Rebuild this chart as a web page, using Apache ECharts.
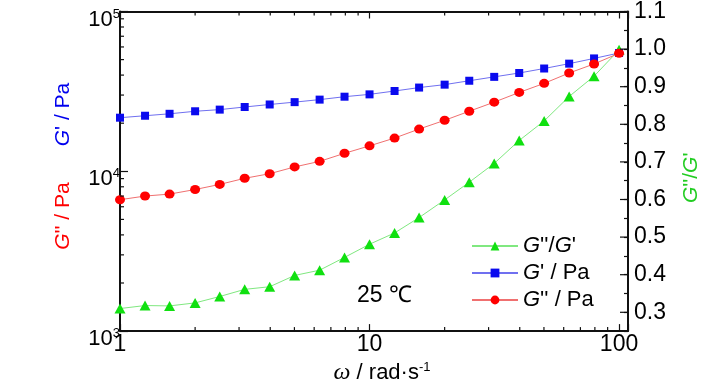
<!DOCTYPE html>
<html>
<head>
<meta charset="utf-8">
<script src="https://cdn.jsdelivr.net/npm/echarts@6/dist/echarts.min.js"></script>
<style>html,body{margin:0;padding:0;background:#fff}#c{width:728px;height:390px}</style>
</head>
<body>
<div id="c"></div>
<script>
// ---- data ----
const omega = [1, 1.26, 1.58, 2, 2.51, 3.16, 3.98, 5.01, 6.31, 7.94, 10, 12.6, 15.8, 20, 25.1, 31.6, 39.8, 50.1, 63.1, 79.4, 100];
const Gp = [21650, 22270, 22900, 23750, 24320, 25260, 26190, 27090, 28090, 29300, 30300, 31800, 33420, 34850, 36870, 38990, 41230, 43980, 47170, 50860, 55000];
const Gpp = [6640, 7000, 7200, 7690, 8280, 9040, 9660, 10650, 11540, 12960, 14430, 16140, 18380, 20850, 23760, 27090, 31160, 35500, 41230, 46960, 54770];
const ratio = [0.310, 0.318, 0.317, 0.325, 0.342, 0.361, 0.368, 0.398, 0.412, 0.446, 0.481, 0.511, 0.552, 0.599, 0.646, 0.696, 0.757, 0.809, 0.874, 0.928, 0.998];
const xMinorTicks = [2, 3, 4, 5, 6, 7, 8, 9, 20, 30, 40, 50, 60, 70, 80, 90];
const yMinorTicks = [2000, 3000, 4000, 5000, 6000, 7000, 8000, 9000, 20000, 30000, 40000, 50000, 60000, 70000, 80000, 90000];
const rightMajorTicks = [0.3, 0.4, 0.5, 0.6, 0.7, 0.8, 0.9, 1.0, 1.1];
const seriesNames = ["G''/G'", "G' / Pa", "G'' / Pa"];

const X_MIN = 1, X_MAX = 108.6, Y_MIN = 1000, Y_MAX = 100000, R_MIN = 0.25, R_MAX = 1.1;
const FONT = "'Liberation Sans Narrow', 'Liberation Sans', Arial, sans-serif";
const AX = '#111';

const chart = echarts.init(document.getElementById('c'), null, {renderer: 'canvas'});

function isPow10(v){ const l = Math.log10(v); return Math.abs(l - Math.round(l)) < 1e-6; }

function tickSeries(data, yAxisIndex, draw){
  return {
    type: 'custom', xAxisIndex: 0, yAxisIndex: yAxisIndex, silent: true, clip: false, z: 10,
    data: data,
    renderItem: function(params, api){
      return {type: 'group', children: draw(api)};
    }
  };
}
function ln(x1,y1,x2,y2){ return {type:'line', shape:{x1:x1,y1:y1,x2:x2,y2:y2}, style:{stroke:AX, lineWidth:1.2}}; }

const option = {
  animation: false,
  backgroundColor: '#fff',
  textStyle: {fontFamily: FONT},
  grid: {left: 120, right: 100, top: 9, bottom: 52, containLabel: false},
  legend: {
    data: seriesNames,
    orient: 'vertical', left: 466, top: 230,
    itemWidth: 46, itemHeight: 11, itemGap: 5,
    textStyle: {fontFamily: FONT, fontSize: 22, color: '#000', lineHeight: 21,
      rich: {i: {fontStyle: 'italic', fontFamily: FONT, fontSize: 22, lineHeight: 21}}},
    formatter: function(name){ return name.replace(/G/g, '{i|G}'); }
  },
  xAxis: [{
    type: 'log', min: X_MIN, max: X_MAX, position: 'bottom',
    axisLine: {show: true, lineStyle: {color: AX, width: 2}},
    axisTick: {show: true, inside: true, length: 7, lineStyle: {color: AX, width: 1.2}},
    splitLine: {show: false}, minorTick: {show: false},
    axisLabel: {fontFamily: FONT, fontSize: 23, color: '#000', margin: 2, showMaxLabel: true,
      formatter: function(v){ return isPow10(v) && v <= 100 ? String(Math.round(v)) : ''; }},
    name: '{w|ω} / rad·s{s|-1}', nameLocation: 'middle', nameGap: 27,
    nameTextStyle: {fontFamily: FONT, fontSize: 22, color: '#000', padding: [0, 0, 0, 16],
      rich: {w: {fontFamily: "'Liberation Serif', 'DejaVu Serif', serif", fontStyle: 'italic', fontSize: 24},
             s: {fontFamily: FONT, fontSize: 13, verticalAlign: 'top', padding: [0, 0, 10, 0]}}}
  }, {
    type: 'log', min: X_MIN, max: X_MAX, position: 'top',
    axisLine: {show: true, lineStyle: {color: AX, width: 2}},
    axisTick: {show: true, inside: true, length: 7, lineStyle: {color: AX, width: 1.2}},
    axisLabel: {show: false}, splitLine: {show: false}
  }],
  yAxis: [{
    type: 'log', min: Y_MIN, max: Y_MAX, position: 'left',
    axisLine: {show: true, lineStyle: {color: AX, width: 2}},
    axisTick: {show: true, inside: true, length: 8, lineStyle: {color: AX, width: 1.2}},
    splitLine: {show: false},
    axisLabel: {margin: 0, padding: [16, 0, 0, 0],
      formatter: function(v){ return '{b|10}{s|' + Math.round(Math.log10(v)) + '}'; },
      rich: {b: {fontFamily: "'Liberation Sans', Arial, sans-serif", fontSize: 22, color: '#000', lineHeight: 24},
             s: {fontFamily: "'Liberation Sans', Arial, sans-serif", fontSize: 13, color: '#000', verticalAlign: 'top', lineHeight: 24, padding: [0, 0, 12, 0]}}},
    name: "{ri|G}{r|'' / Pa}{sp|}{bi|G}{b|' / Pa}", nameLocation: 'middle', nameRotate: 90, nameGap: 46,
    nameTextStyle: {padding: [0, 0, 0, 10],
      rich: {
        ri: {fontFamily: "'Liberation Sans', Arial, sans-serif", fontStyle: 'italic', fontSize: 21, color: '#ff0000'},
        r: {fontFamily: "'Liberation Sans', Arial, sans-serif", fontSize: 21, color: '#ff0000'},
        sp: {width: 36},
        bi: {fontFamily: "'Liberation Sans', Arial, sans-serif", fontStyle: 'italic', fontSize: 21, color: '#0000ee'},
        b: {fontFamily: "'Liberation Sans', Arial, sans-serif", fontSize: 21, color: '#0000ee'}
      }}
  }, {
    type: 'value', min: R_MIN, max: R_MAX, interval: 0.05, position: 'right',
    axisLine: {show: true, lineStyle: {color: AX, width: 2}},
    axisTick: {show: true, inside: true, length: 4, lineStyle: {color: AX, width: 1.2}},
    splitLine: {show: false},
    axisLabel: {fontFamily: FONT, fontSize: 23, color: '#000', margin: 6,
      formatter: function(v){ return Math.abs(v * 10 - Math.round(v * 10)) < 1e-6 ? v.toFixed(1) : ''; }},
    name: "{i|G}''/{i|G}'", nameLocation: 'middle', nameRotate: 90, nameGap: 53,
    nameTextStyle: {fontFamily: "'Liberation Sans', Arial, sans-serif", fontSize: 21, color: '#22cc22', padding: [0, 13, 0, 0],
      rich: {i: {fontFamily: "'Liberation Sans', Arial, sans-serif", fontStyle: 'italic', fontSize: 21, color: '#22cc22'}}}
  }],
  graphic: [{
    type: 'text', left: 357, top: 284, silent: true,
    style: {text: '25 ℃', fontFamily: FONT, fontSize: 23, fill: '#000'}
  }],
  series: [
    {
      name: seriesNames[0], type: 'line', xAxisIndex: 0, yAxisIndex: 1,
      data: omega.map((w, i) => [w, ratio[i]]),
      symbol: 'triangle', symbolSize: [11, 10],
      itemStyle: {color: '#10e010'}, lineStyle: {color: '#80e880', width: 1}, z: 3
    },
    {
      name: seriesNames[1], type: 'line', xAxisIndex: 0, yAxisIndex: 0,
      data: omega.map((w, i) => [w, Gp[i]]),
      symbol: 'rect', symbolSize: 8,
      itemStyle: {color: '#0a0aee'}, lineStyle: {color: '#7070f0', width: 1}, z: 4
    },
    {
      name: seriesNames[2], type: 'line', xAxisIndex: 0, yAxisIndex: 0,
      data: omega.map((w, i) => [w, Gpp[i]]),
      symbol: 'circle', symbolSize: [10, 9],
      itemStyle: {color: '#ff0000'}, lineStyle: {color: '#f07070', width: 1}, z: 5
    },
    tickSeries(xMinorTicks.map(v => [v, Y_MIN]), 0, function(api){
      const b = api.coord([api.value(0), Y_MIN]);
      const t = api.coord([api.value(0), Y_MAX]);
      return [ln(b[0], b[1], b[0], b[1] - 4), ln(t[0], t[1], t[0], t[1] + 4)];
    }),
    tickSeries(yMinorTicks.map(v => [X_MIN, v]), 0, function(api){
      const p = api.coord([X_MIN, api.value(1)]);
      return [ln(p[0], p[1], p[0] + 4, p[1])];
    }),
    tickSeries(rightMajorTicks.map(v => [X_MAX, v]), 1, function(api){
      const p = api.coord([X_MAX, api.value(1)]);
      return [ln(p[0], p[1], p[0] - 8, p[1])];
    })
  ]
};
chart.setOption(option);
</script>
</body>
</html>
